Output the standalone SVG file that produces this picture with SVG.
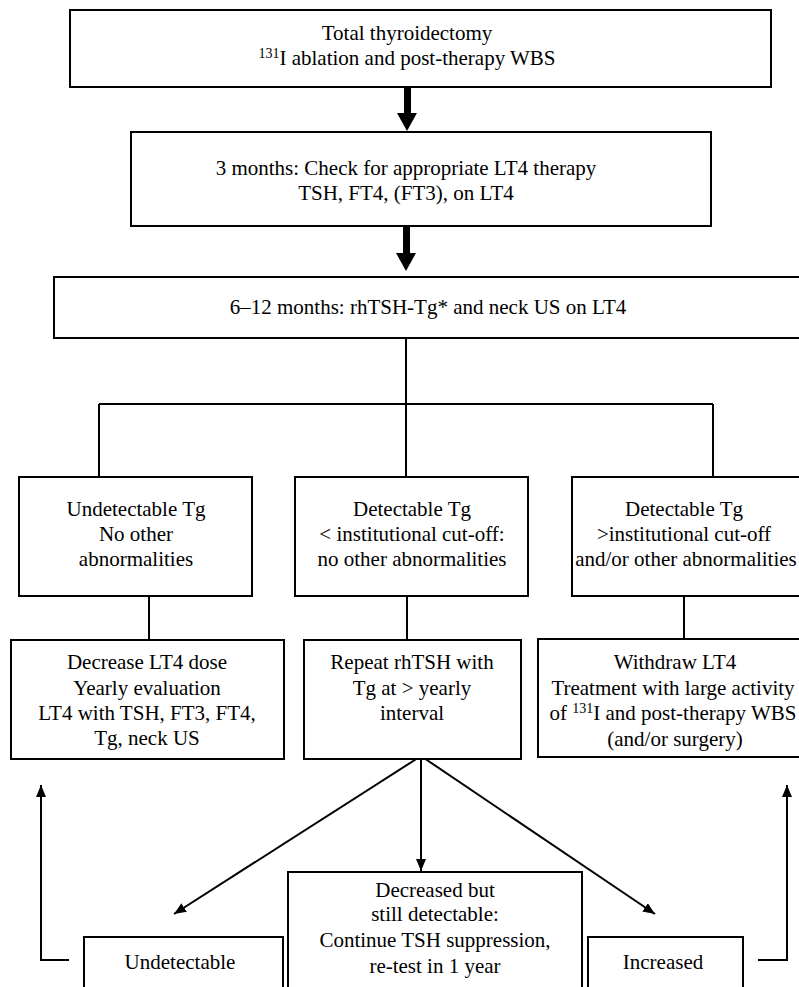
<svg xmlns="http://www.w3.org/2000/svg" width="799" height="987" viewBox="0 0 799 987">
<style>
.b{fill:#fff;stroke:#000;stroke-width:2}
.t{font-family:'Liberation Serif','DejaVu Serif',serif;font-size:21px;fill:#000;text-anchor:middle}
.s{font-size:14px}
.l{fill:none;stroke:#000;stroke-width:2}
</style>
<defs>
<marker id="ah" viewBox="0 0 12 10" refX="12" refY="5" markerWidth="12" markerHeight="10" markerUnits="userSpaceOnUse" orient="auto">
<path d="M0,0 L12,5 L0,10 z" fill="#000"/>
</marker>
</defs>
<rect width="799" height="987" fill="#fff"/>
<g id="connectors">
<rect x="404" y="88" width="7" height="26" fill="#000"/>
<path d="M397,113 L417,113 L407,131 z" fill="#000"/>
<rect x="403" y="227" width="7" height="27" fill="#000"/>
<path d="M396,253 L416,253 L406,271 z" fill="#000"/>
<path class="l" d="M406,338 V404 M99,404 H713 M99,404 V477 M406,404 V477 M713,404 V477"/>
<path class="l" d="M149,596 V640 M407,596 V640 M684,596 V639"/>
<path class="l" d="M421,756 L174,914" marker-end="url(#ah)"/>
<path class="l" d="M421,756 V871" marker-end="url(#ah)"/>
<path class="l" d="M421,756 L655,914" marker-end="url(#ah)"/>
<path class="l" d="M69,960 H41 V785" marker-end="url(#ah)"/>
<path class="l" d="M758,960 H787 V785" marker-end="url(#ah)"/>
</g>
<g id="n1">
<rect class="b" x="70" y="10" width="701" height="77"/>
<text class="t" x="407" y="40">Total thyroidectomy</text>
<text class="t" x="407" y="65"><tspan class="s" dy="-7">131</tspan><tspan dy="7">I ablation and post-therapy WBS</tspan></text>
</g>
<g id="n2">
<rect class="b" x="131" y="132" width="580" height="94"/>
<text class="t" x="406" y="175">3 months: Check for appropriate LT4 therapy</text>
<text class="t" x="406" y="200">TSH, FT4, (FT3), on LT4</text>
</g>
<g id="n3">
<rect class="b" x="54" y="277" width="800" height="61"/>
<text class="t" x="428" y="314">6–12 months: rhTSH-Tg* and neck US on LT4</text>
</g>
<g id="nA">
<rect class="b" x="19" y="477" width="233" height="119"/>
<text class="t" x="136" y="516">Undetectable Tg</text>
<text class="t" x="136" y="541">No other</text>
<text class="t" x="136" y="566">abnormalities</text>
</g>
<g id="nB">
<rect class="b" x="295" y="477" width="233" height="119"/>
<text class="t" x="412" y="516">Detectable Tg</text>
<text class="t" x="412" y="541">&lt; institutional cut-off:</text>
<text class="t" x="412" y="566">no other abnormalities</text>
</g>
<g id="nC">
<rect class="b" x="572" y="477" width="260" height="119"/>
<text class="t" x="684" y="516">Detectable Tg</text>
<text class="t" x="684" y="541">&gt;institutional cut-off</text>
<text class="t" x="686" y="566">and/or other abnormalities</text>
</g>
<g id="nD">
<rect class="b" x="11" y="640" width="273" height="119"/>
<text class="t" x="147" y="669">Decrease LT4 dose</text>
<text class="t" x="147" y="695">Yearly evaluation</text>
<text class="t" x="147" y="720">LT4 with TSH, FT3, FT4,</text>
<text class="t" x="147" y="745">Tg, neck US</text>
</g>
<g id="nE">
<rect class="b" x="304" y="640" width="217" height="119"/>
<text class="t" x="412" y="669">Repeat rhTSH with</text>
<text class="t" x="412" y="695">Tg at &gt; yearly</text>
<text class="t" x="412" y="720">interval</text>
</g>
<g id="nF">
<rect class="b" x="538" y="639" width="300" height="118"/>
<text class="t" x="675" y="669">Withdraw LT4</text>
<text class="t" x="673" y="695">Treatment with large activity</text>
<text class="t" x="673" y="720">of <tspan class="s" dy="-7">131</tspan><tspan dy="7">I and post-therapy WBS</tspan></text>
<text class="t" x="675" y="746">(and/or surgery)</text>
</g>
<g id="nG">
<rect class="b" x="84" y="937" width="199" height="70"/>
<text class="t" x="180" y="969">Undetectable</text>
</g>
<g id="nH">
<rect class="b" x="288" y="872" width="294" height="135"/>
<text class="t" x="435" y="897">Decreased but</text>
<text class="t" x="435" y="921">still detectable:</text>
<text class="t" x="435" y="947">Continue TSH suppression,</text>
<text class="t" x="435" y="973">re-test in 1 year</text>
</g>
<g id="nI">
<rect class="b" x="588" y="937" width="155" height="70"/>
<text class="t" x="663" y="969">Increased</text>
</g>
</svg>
